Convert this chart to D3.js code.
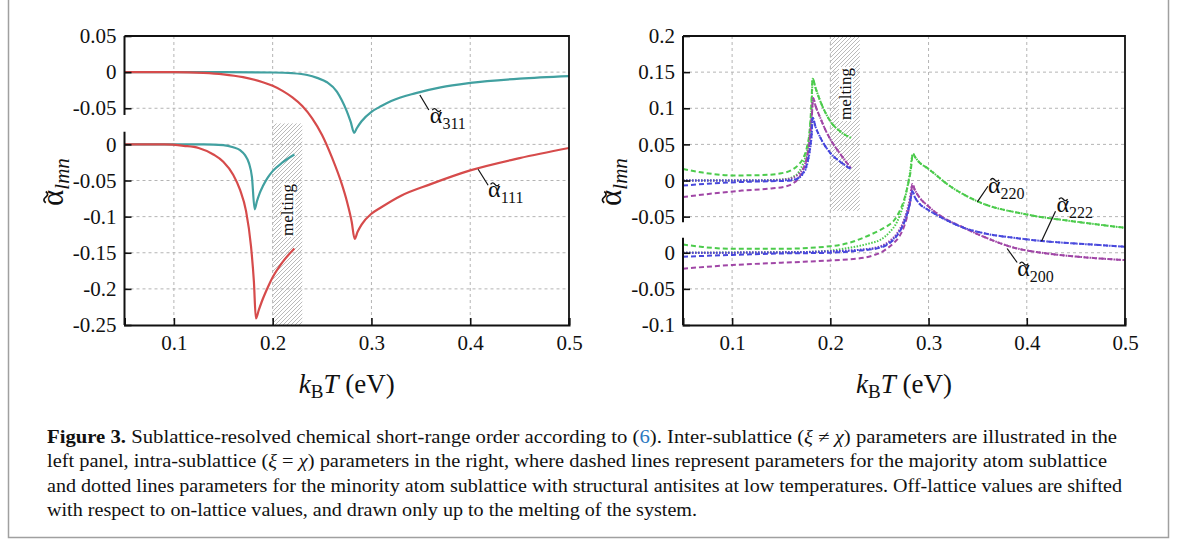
<!DOCTYPE html>
<html>
<head>
<meta charset="utf-8">
<script src="https://cdn.jsdelivr.net/npm/d3@7"></script>
<style>
body { margin: 0; background: #fff; }
svg text { font-family: "Liberation Serif", "Times New Roman", serif; fill: #111; }
</style>
</head>
<body>
<svg id="fig" width="1182" height="546"></svg>
<script>
// ---- data (x = kBT in eV, y = alpha) ----
var xTicks = [0.1, 0.2, 0.3, 0.4, 0.5];

// left panel: plotted value p; on-lattice drawn as is, off-lattice shifted by -0.1
var leftTickP = [0.05, 0, -0.05, -0.1, -0.15, -0.2, -0.25, -0.3, -0.35];
var leftTickLabels = ["0.05", "0", "-0.05", "0", "-0.05", "-0.1", "-0.15", "-0.2", "-0.25"];
// right panel: on-lattice drawn as is, off-lattice shifted by +0.1
var rightTickP = [0.3, 0.25, 0.2, 0.15, 0.1, 0.05, 0, -0.05, -0.1];
var rightTickLabels = ["0.2", "0.15", "0.1", "0.05", "0", "-0.05", "0", "-0.05", "-0.1"];

// inter-sublattice, on-lattice
var a111On = [[0.05,0],[0.10,0],[0.13,-0.001],[0.15,-0.003],[0.17,-0.007],[0.19,-0.014],[0.20,-0.019],[0.21,-0.026],
  [0.22,-0.035],[0.23,-0.047],[0.24,-0.064],[0.25,-0.087],[0.26,-0.118],[0.27,-0.155],[0.275,-0.178],[0.28,-0.207],
  [0.283,-0.231],[0.286,-0.221],[0.29,-0.211],[0.30,-0.196],[0.31,-0.187],[0.33,-0.171],[0.36,-0.155],[0.40,-0.136],
  [0.45,-0.119],[0.50,-0.105]];
var a311On = [[0.05,0],[0.15,0],[0.20,-0.0005],[0.22,-0.0015],[0.235,-0.004],[0.245,-0.008],[0.255,-0.014],[0.265,-0.027],
  [0.27,-0.039],[0.275,-0.054],[0.279,-0.069],[0.2825,-0.084],[0.285,-0.078],[0.29,-0.068],[0.30,-0.055],[0.31,-0.047],
  [0.32,-0.040],[0.345,-0.029],[0.37,-0.021],[0.40,-0.015],[0.45,-0.009],[0.50,-0.0055]];
// inter-sublattice, off-lattice (up to melting)
var a111Off = [[0.05,0],[0.09,0],[0.11,-0.002],[0.125,-0.005],[0.14,-0.014],[0.15,-0.024],[0.16,-0.042],[0.167,-0.063],
  [0.173,-0.092],[0.178,-0.14],[0.181,-0.19],[0.183,-0.241],[0.186,-0.229],[0.19,-0.214],[0.195,-0.198],[0.20,-0.184],
  [0.21,-0.163],[0.222,-0.144]];
var a311Off = [[0.05,0],[0.13,0],[0.15,-0.001],[0.16,-0.004],[0.167,-0.008],[0.172,-0.015],[0.176,-0.026],[0.179,-0.045],
  [0.1818,-0.090],[0.184,-0.079],[0.187,-0.067],[0.19,-0.058],[0.195,-0.046],[0.20,-0.037],[0.21,-0.025],[0.222,-0.014]];

// intra-sublattice, off-lattice: majority (dashed) and minority (dotted), common tail after the peak
var a220OffTail = [[0.185,0.128],[0.19,0.109],[0.195,0.094],[0.20,0.082],[0.21,0.068],[0.221,0.059]];
var a220OffMaj = [[0.05,0.016],[0.07,0.011],[0.10,0.007],[0.13,0.0075],[0.15,0.010],[0.16,0.014],[0.167,0.021],
  [0.172,0.030],[0.176,0.045],[0.179,0.07],[0.1805,0.10],[0.182,0.141]];
var a220OffMin = [[0.05,0],[0.12,0],[0.145,0.001],[0.155,0.002],[0.162,0.005],[0.168,0.012],[0.173,0.026],[0.177,0.045],
  [0.1795,0.075],[0.181,0.105],[0.182,0.141]];
var a200OffTail = [[0.185,0.103],[0.19,0.086],[0.195,0.07],[0.20,0.057],[0.21,0.037],[0.221,0.017]];
var a200OffMaj = [[0.05,-0.023],[0.08,-0.018],[0.11,-0.014],[0.14,-0.011],[0.155,-0.008],[0.162,-0.004],[0.167,0.002],
  [0.172,0.014],[0.176,0.030],[0.179,0.055],[0.181,0.085],[0.1825,0.114]];
var a200OffMin = [[0.05,0],[0.13,0],[0.15,0.001],[0.16,0.003],[0.167,0.008],[0.172,0.016],[0.176,0.032],[0.179,0.058],
  [0.181,0.088],[0.1825,0.114]];
var a222OffTail = [[0.185,0.074],[0.19,0.059],[0.20,0.038],[0.21,0.026],[0.221,0.016]];
var a222OffMaj = [[0.05,-0.007],[0.08,-0.004],[0.11,-0.002],[0.14,-0.001],[0.16,0],[0.167,0.003],[0.172,0.010],
  [0.176,0.022],[0.179,0.042],[0.181,0.065],[0.182,0.087]];
var a222OffMin = [[0.05,0],[0.14,0],[0.16,0.001],[0.167,0.003],[0.172,0.009],[0.176,0.02],[0.179,0.04],[0.181,0.063],
  [0.182,0.087]];

// intra-sublattice, on-lattice
var a220OnTail = [[0.287,0.131],[0.29,0.126],[0.30,0.116],[0.32,0.094],[0.35,0.071],[0.40,0.053],[0.45,0.043],[0.50,0.0345]];
var a220OnMaj = [[0.05,0.0115],[0.07,0.008],[0.10,0.0055],[0.15,0.0055],[0.20,0.009],[0.22,0.014],[0.234,0.021],[0.25,0.031],
  [0.258,0.037],[0.265,0.045],[0.27,0.056],[0.275,0.073],[0.279,0.094],[0.282,0.115],[0.284,0.137]];
var a220OnMin = [[0.05,0],[0.17,0.001],[0.20,0.003],[0.22,0.007],[0.24,0.013],[0.251,0.018],[0.26,0.028],[0.268,0.043],
  [0.274,0.065],[0.278,0.088],[0.281,0.11],[0.284,0.137]];
var a200OnTail = [[0.286,0.087],[0.29,0.078],[0.30,0.064],[0.31,0.053],[0.336,0.0345],[0.36,0.020],[0.387,0.007],
  [0.41,0.001],[0.438,-0.0037],[0.47,-0.0075],[0.50,-0.0102]];
var a200OnMaj = [[0.05,-0.022],[0.10,-0.017],[0.15,-0.0138],[0.20,-0.0106],[0.234,-0.007],[0.245,-0.003],[0.251,0],
  [0.258,0.006],[0.265,0.014],[0.27,0.022],[0.275,0.036],[0.279,0.055],[0.282,0.077],[0.2835,0.095]];
var a200OnMin = [[0.05,0],[0.15,0.0005],[0.20,0.002],[0.23,0.004],[0.251,0.009],[0.26,0.016],[0.268,0.027],[0.274,0.042],
  [0.278,0.058],[0.281,0.075],[0.2835,0.095]];
var a222OnTail = [[0.286,0.077],[0.29,0.069],[0.30,0.059],[0.31,0.051],[0.336,0.0345],[0.36,0.026],[0.387,0.0207],
  [0.41,0.017],[0.438,0.0138],[0.47,0.011],[0.50,0.0083]];
var a222OnMaj = [[0.05,-0.0055],[0.10,-0.003],[0.15,-0.001],[0.20,0],[0.23,0.003],[0.251,0.007],[0.26,0.013],[0.268,0.024],
  [0.274,0.038],[0.278,0.053],[0.281,0.068],[0.2835,0.085]];
var a222OnMin = [[0.05,0],[0.15,0.0005],[0.20,0.002],[0.23,0.004],[0.251,0.008],[0.26,0.014],[0.268,0.025],[0.274,0.039],
  [0.278,0.054],[0.281,0.069],[0.2835,0.085]];

var meltRange = [0.2, 0.23];

var red = "#d64b4b", teal = "#41a0a0", green = "#4ccb4c", purple = "#a046a6", blue = "#4848dc";
var serif = '"Liberation Serif", "Times New Roman", serif';

var svg = d3.select("#fig");
svg.append("rect").attr("width", 1182).attr("height", 546).attr("fill", "#fff");

var defs = svg.append("defs");
var pat = defs.append("pattern").attr("id", "hatch").attr("width", 4).attr("height", 4)
    .attr("patternUnits", "userSpaceOnUse");
pat.append("path").attr("d", "M-1,1 l2,-2 M0,4 l4,-4 M3,5 l2,-2")
    .attr("stroke", "#a8a8a8").attr("stroke-width", 0.8);

// outer frame of the figure
svg.append("path").attr("d", "M8.5,0 V537.5 H1168.5 V0")
    .attr("fill", "none").attr("stroke", "#a0a0a0").attr("stroke-width", 1.5);

// alpha with a drawn tilde on top plus a subscript; anchored at (0,0) of parent g
function alphaLabel(parent, size, sub, subSize, subDy, italicSub, centered) {
    var t = parent.append("text").attr("x", 0).attr("y", 0).style("font-size", size + "px");
    t.append("tspan").text("\u03b1");
    t.append("tspan").style("font-size", subSize + "px").attr("dy", subDy)
        .style("font-style", italicSub ? "italic" : "normal").text(sub);
    var aw = t.node().getSubStringLength(0, 1);
    var total = t.node().getComputedTextLength();
    var x0 = centered ? -total / 2 : 0;
    t.attr("x", x0);
    var w = size * 0.36, h = size * 0.06, cx = x0 + aw / 2 + size * 0.02, cy = -size * 0.6;
    parent.append("path")
        .attr("d", "M" + (cx - w / 2) + "," + (cy + h) + " q" + (w / 4) + "," + (-2 * h) + " " + (w / 2) + ",0"
            + " t" + (w / 2) + ",0")
        .attr("fill", "none").attr("stroke", "#111").attr("stroke-width", size * 0.055);
}

function drawPanel(cfg) {
    var x = d3.scaleLinear().domain([0.05, 0.5]).range(cfg.xRange);
    var y = d3.scaleLinear().domain(cfg.pDomain).range([325, 36]);
    var g = svg.append("g");
    var x0 = cfg.xRange[0], x1 = cfg.xRange[1];

    defs.append("clipPath").attr("id", cfg.id + "clip")
        .append("rect").attr("x", x0).attr("y", 36).attr("width", x1 - x0).attr("height", 289);

    // grid
    g.selectAll(".vg").data(xTicks.slice(0, 4)).enter().append("line")
        .attr("x1", d => x(d)).attr("x2", d => x(d)).attr("y1", 36).attr("y2", 325)
        .attr("stroke", "#b4b4b4").attr("stroke-dasharray", "3,3");
    g.selectAll(".hg").data(cfg.tickP.slice(1, -1)).enter().append("line")
        .attr("x1", x0).attr("x2", x1).attr("y1", d => y(d)).attr("y2", d => y(d))
        .attr("stroke", "#b4b4b4").attr("stroke-dasharray", "3,3");

    // melting region
    var my0 = y(cfg.meltP[0]), my1 = y(cfg.meltP[1]);
    g.append("rect").attr("x", x(meltRange[0])).attr("width", x(meltRange[1]) - x(meltRange[0]))
        .attr("y", Math.min(my0, my1)).attr("height", Math.abs(my1 - my0))
        .attr("fill", "url(#hatch)");
    var mx = (x(meltRange[0]) + x(meltRange[1])) / 2 + 1, myc = cfg.meltLabelY;
    g.append("rect").attr("x", mx - 7).attr("y", myc - 27).attr("width", 14).attr("height", 54).attr("fill", "#fff");
    g.append("text").attr("transform", "translate(" + (mx + 5) + "," + myc + ") rotate(-90)")
        .attr("text-anchor", "middle").style("font-size", "17px").text("melting");

    // curves
    var line = d3.line().x(d => x(d[0])).curve(d3.curveMonotoneX);
    var cg = g.append("g").attr("clip-path", "url(#" + cfg.id + "clip)");
    cfg.series.forEach(function(s) {
        line.y(d => y(d[1] + s.shift));
        cg.append("path").attr("d", line(s.data)).attr("fill", "none")
            .attr("stroke", s.color).attr("stroke-width", s.dash ? 2 : 2.2)
            .attr("stroke-dasharray", s.dash || null);
    });

    // frame: top and right
    g.append("path").attr("d", "M" + x0 + ",36 H" + x1 + " V325")
        .attr("fill", "none").attr("stroke", "#111").attr("stroke-width", 1.8);

    // bottom axis
    var xa = g.append("g").attr("transform", "translate(0,325)")
        .call(d3.axisBottom(x).tickValues(xTicks).tickSize(-7).tickPadding(10).tickFormat(d3.format(".1f")));
    xa.attr("font-family", null);
    xa.select(".domain").attr("stroke", "#111").attr("stroke-width", 2);
    xa.selectAll(".tick line").attr("stroke", "#111").attr("stroke-width", 1.6);
    xa.selectAll("text").style("font-size", "21px").style("font-family", serif).style("fill", "#111");

    // left axis with break
    var ya = g.append("g").attr("transform", "translate(" + x0 + ",0)")
        .call(d3.axisLeft(y).tickValues(cfg.tickP).tickSize(-7).tickPadding(8)
            .tickFormat((d, i) => cfg.tickLabels[i]));
    ya.attr("font-family", null);
    ya.select(".domain").remove();
    ya.selectAll(".tick line").attr("stroke", "#111").attr("stroke-width", 1.6);
    ya.selectAll("text").style("font-size", "21px").style("font-family", serif).style("fill", "#111");
    cfg.segments.forEach(function(sg) {
        g.append("line").attr("x1", x0).attr("x2", x0).attr("y1", y(sg[0])).attr("y2", y(sg[1]))
            .attr("stroke", "#111").attr("stroke-width", 2);
    });

    // axis titles
    var xt = g.append("text").attr("x", (x0 + x1) / 2).attr("y", 393).attr("text-anchor", "middle")
        .style("font-size", "27px");
    xt.append("tspan").style("font-style", "italic").text("k");
    xt.append("tspan").style("font-size", "19px").attr("dy", 5).text("B");
    xt.append("tspan").style("font-style", "italic").attr("dy", -5).text("T");
    xt.append("tspan").text(" (eV)");

    var yg = g.append("g").attr("transform", "translate(" + (x0 - 62) + ",182) rotate(-90)");
    alphaLabel(yg, 31, "lmn", 21, 6, true, true);

    // curve labels
    cfg.labels.forEach(function(lb) {
        var px = x(lb.t), py = y(lb.p);
        g.append("line").attr("x1", px).attr("y1", py).attr("x2", px + lb.dx).attr("y2", py + lb.dy)
            .attr("stroke", "#111").attr("stroke-width", 1.2);
        var lg = g.append("g").attr("transform", "translate(" + (px + lb.tx) + "," + (py + lb.ty) + ")");
        alphaLabel(lg, 24, lb.name, 16, 6, false, false);
    });
}

drawPanel({
    id: "L", xRange: [124.5, 569], pDomain: [-0.35, 0.05],
    tickP: leftTickP, tickLabels: leftTickLabels,
    segments: [[0.05, -0.0593], [-0.0825, -0.35]],
    meltP: [-0.35, -0.071], meltLabelY: 210,
    series: [
        { data: a311On, shift: 0, color: teal },
        { data: a111On, shift: 0, color: red },
        { data: a311Off, shift: -0.1, color: teal },
        { data: a111Off, shift: -0.1, color: red }
    ],
    labels: [
        { name: "311", t: 0.349, p: -0.0317, dx: 9, dy: 15, tx: 10, ty: 28 },
        { name: "111", t: 0.408, p: -0.1345, dx: 10, dy: 16, tx: 10, ty: 28 }
    ]
});

drawPanel({
    id: "R", xRange: [683, 1125], pDomain: [-0.1, 0.3],
    tickP: rightTickP, tickLabels: rightTickLabels,
    segments: [[0.3, 0.0421], [0.0206, -0.1]],
    meltP: [0.3, 0.058], meltLabelY: 94,
    series: [
        { data: a220OnMaj.concat(a220OnTail), shift: 0, color: green, dash: "5,3" },
        { data: a220OnMin.concat(a220OnTail), shift: 0, color: green, dash: "1.5,1.5" },
        { data: a200OnMaj.concat(a200OnTail), shift: 0, color: purple, dash: "5,3" },
        { data: a200OnMin.concat(a200OnTail), shift: 0, color: purple, dash: "1.5,1.5" },
        { data: a222OnMaj.concat(a222OnTail), shift: 0, color: blue, dash: "5,3" },
        { data: a222OnMin.concat(a222OnTail), shift: 0, color: blue, dash: "1.5,1.5" },
        { data: a220OffMaj.concat(a220OffTail), shift: 0.1, color: green, dash: "5,3" },
        { data: a220OffMin.concat(a220OffTail), shift: 0.1, color: green, dash: "1.5,1.5" },
        { data: a200OffMaj.concat(a200OffTail), shift: 0.1, color: purple, dash: "5,3" },
        { data: a200OffMin.concat(a200OffTail), shift: 0.1, color: purple, dash: "1.5,1.5" },
        { data: a222OffMaj.concat(a222OffTail), shift: 0.1, color: blue, dash: "5,3" },
        { data: a222OffMin.concat(a222OffTail), shift: 0.1, color: blue, dash: "1.5,1.5" }
    ],
    labels: [
        { name: "220", t: 0.3497, p: 0.0704, dx: 10.6, dy: -15.6, tx: 10.6, ty: -9 },
        { name: "222", t: 0.415, p: 0.016, dx: 14, dy: -30, tx: 15, ty: -29 },
        { name: "200", t: 0.380, p: 0.0059, dx: 10, dy: 14, tx: 10, ty: 28 }
    ]
});

// caption
var capLines = [
    [["Figure 3.", "b"], [" Sublattice-resolved chemical short-range order according to ("], ["6", "l"], ["). Inter-sublattice ("],
     ["\u03be", "i"], [" \u2260 "], ["\u03c7", "i"], [") parameters are illustrated in the"]],
    [["left panel, intra-sublattice ("], ["\u03be", "i"], [" = "], ["\u03c7", "i"],
     [") parameters in the right, where dashed lines represent parameters for the majority atom sublattice"]],
    [["and dotted lines parameters for the minority atom sublattice with structural antisites at low temperatures. Off-lattice values are shifted"]],
    [["with respect to on-lattice values, and drawn only up to the melting of the system."]]
];
var capWidths = [1070, 1060, 1075, 650];
capLines.forEach(function(parts, i) {
    var t = svg.append("text").attr("x", 47).attr("y", 443 + i * 24.3).style("font-size", "18px")
        .attr("textLength", capWidths[i]).attr("lengthAdjust", "spacingAndGlyphs");
    parts.forEach(function(p) {
        var s = t.append("tspan").text(p[0]);
        if (p[1] === "b") s.style("font-weight", "bold");
        if (p[1] === "i") s.style("font-style", "italic");
        if (p[1] === "l") s.style("fill", "#2a78c0");
    });
});
</script>
</body>
</html>
